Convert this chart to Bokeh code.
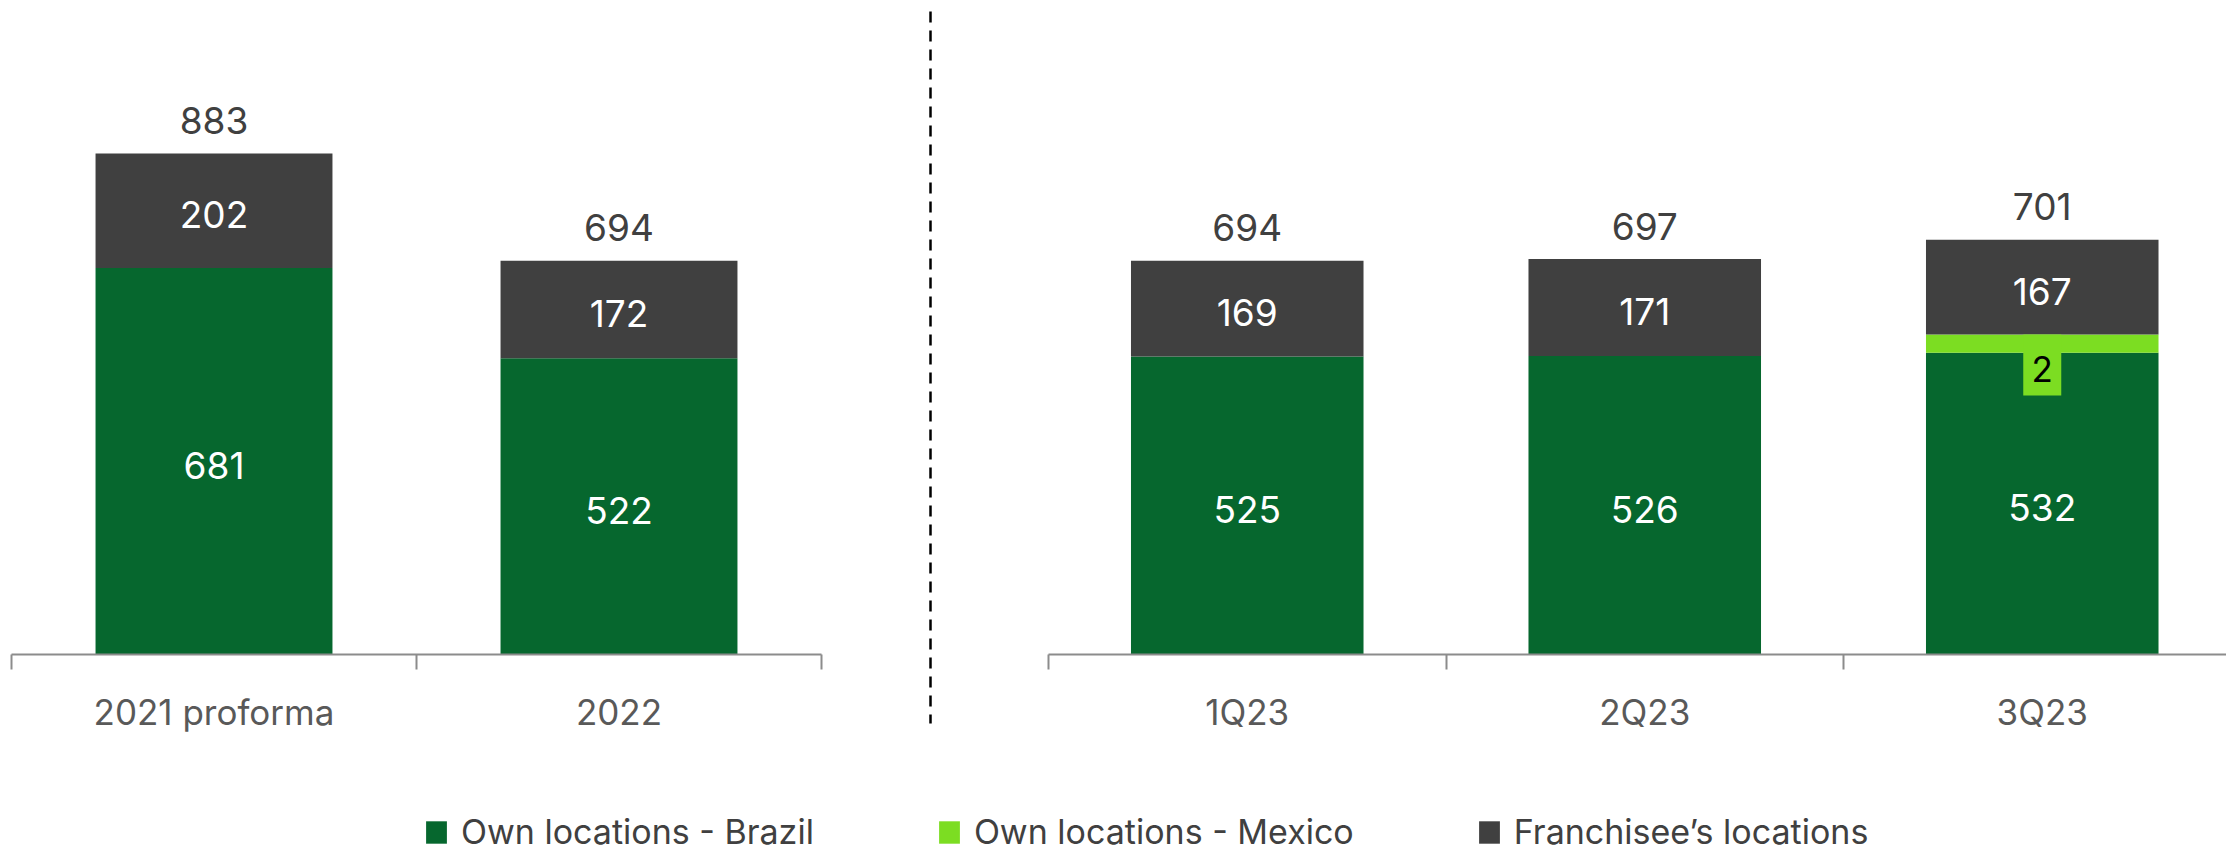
from bokeh.plotting import figure
from bokeh.models import (Range1d, LinearAxis, FixedTicker, ColumnDataSource,
                          Legend, LegendItem)
from bokeh.core.properties import value
from bokeh.embed import file_html
from bokeh.resources import INLINE

# ---------------- data ----------------
left_categories = ["2021 proforma", "2022"]
left_brazil = [681, 522]
left_mexico = [0, 0]
left_franchise = [202, 172]

right_categories = ["1Q23", "2Q23", "3Q23"]
right_brazil = [525, 526, 532]
right_mexico = [0, 0, 2]
right_franchise = [169, 171, 167]

series_names = ["Own locations - Brazil", "Own locations - Mexico", "Franchisee\u2019s locations"]

# ---------------- style ----------------
GREEN = "#06672E"
LIME = "#7CDD22"
DARK = "#404040"
AXIS_C = "#8C8C8C"
LABEL_C = "#595959"
FONT = "Inter"

W, H = 2226, 853
PX_PER_UNIT = 501 / 883.0          # vertical scale
BASE_FROM_TOP = 654                 # canvas y of the zero line
L_X0, L_CAT = 11, 405.0             # left panel origin / category width (px)
R_X0, R_CAT = 1048, 397.5           # right panel origin / category width (px)
BAR_W = 0.585
MEX_MIN_VIS = 32                    # minimum drawn thickness for the tiny Mexico segment
BOX_W_PX, BOX_H_PX = 38, 61         # lime value box under the Mexico band

p = figure(width=W, height=H, output_backend="svg", toolbar_location=None,
           x_axis_type=None, y_axis_type=None, min_border=0,
           outline_line_color=None, background_fill_color=None,
           border_fill_color="white")
p.xgrid.visible = False
p.ygrid.visible = False

p.x_range = Range1d(-L_X0 / L_CAT, (W - L_X0) / L_CAT)
p.extra_x_ranges = {"right": Range1d(-R_X0 / R_CAT, (W - R_X0) / R_CAT)}
p.y_range = Range1d(-(H - BASE_FROM_TOP) / PX_PER_UNIT, BASE_FROM_TOP / PX_PER_UNIT)


def panel_source(cats, brazil, mexico, franchise):
    xs = [i + 0.5 for i in range(len(cats))]
    mex_vis = [max(m, MEX_MIN_VIS) if m > 0 else 0 for m in mexico]
    b_top = list(brazil)
    m_top = [b + m for b, m in zip(brazil, mex_vis)]
    f_top = [m + f for m, f in zip(m_top, franchise)]
    totals = [b + m + f for b, m, f in zip(brazil, mexico, franchise)]
    return ColumnDataSource(dict(
        x=xs, b_bot=[0] * len(cats), b_top=b_top, m_top=m_top, f_top=f_top,
        b_mid=[t / 2 for t in b_top],
        f_mid=[(m + f) / 2 for m, f in zip(m_top, f_top)],
        b_lbl=[str(v) for v in brazil], f_lbl=[str(v) for v in franchise],
        m_lbl=[str(v) for v in mexico], m_show=[m > 0 for m in mexico],
        tot=[str(v) for v in totals],
    ))


def draw_panel(cats, brazil, mexico, franchise, range_name):
    src = panel_source(cats, brazil, mexico, franchise)
    kw = {} if range_name is None else {"x_range_name": range_name}
    rb = p.vbar(x="x", width=BAR_W, bottom="b_bot", top="b_top", source=src,
                fill_color=GREEN, line_color=None, **kw)
    rm = p.vbar(x="x", width=BAR_W, bottom="b_top", top="m_top", source=src,
                fill_color=LIME, line_color=None, **kw)
    rf = p.vbar(x="x", width=BAR_W, bottom="m_top", top="f_top", source=src,
                fill_color=DARK, line_color=None, **kw)
    # segment labels
    p.text(x="x", y="b_mid", text="b_lbl", source=src, text_color="white",
           text_font=value(FONT), text_font_size="37px", text_align="center",
           text_baseline="middle", y_offset=4, **kw)
    p.text(x="x", y="f_mid", text="f_lbl", source=src, text_color="white",
           text_font=value(FONT), text_font_size="37px", text_align="center",
           text_baseline="middle", y_offset=4, **kw)
    # totals
    p.text(x="x", y="f_top", text="tot", source=src, text_color=DARK,
           text_font=value(FONT), text_font_size="37px", text_align="center",
           text_baseline="alphabetic", y_offset=-33, **kw)
    # axis
    n = len(cats)
    ax = LinearAxis(fixed_location=0, bounds=(0, n),
                    ticker=FixedTicker(ticks=[i + 0.5 for i in range(n)],
                                       minor_ticks=list(range(n + 1))),
                    major_label_overrides={i + 0.5: c for i, c in enumerate(cats)},
                    axis_line_color=AXIS_C, axis_line_width=2,
                    major_tick_line_color=None, major_tick_out=0, major_tick_in=0,
                    minor_tick_line_color=AXIS_C, minor_tick_line_width=2,
                    minor_tick_out=15, minor_tick_in=0,
                    major_label_standoff=21,
                    major_label_text_font=FONT, major_label_text_font_size="35px",
                    major_label_text_color=LABEL_C, **kw)
    p.add_layout(ax, "below")
    return src, rb, rm, rf


draw_panel(left_categories, left_brazil, left_mexico, left_franchise, None)
rsrc, rb, rm, rf = draw_panel(right_categories, right_brazil, right_mexico,
                              right_franchise, "right")

# small Mexico value label in a lime box hanging under the band
box_h_units = BOX_H_PX / PX_PER_UNIT
mex_src = ColumnDataSource(dict(
    x=[x for x, s in zip(rsrc.data["x"], rsrc.data["m_show"]) if s],
    y=[y - box_h_units / 2 for y, s in zip(rsrc.data["m_top"], rsrc.data["m_show"]) if s],
    t=[t for t, s in zip(rsrc.data["m_lbl"], rsrc.data["m_show"]) if s],
))
p.rect(x="x", y="y", width=BOX_W_PX, width_units="screen", height=box_h_units,
       source=mex_src, x_range_name="right", fill_color=LIME, line_color=None)
p.text(x="x", y="y", text="t", source=mex_src, x_range_name="right",
       text_color="black", text_font=value(FONT), text_font_size="35px",
       text_align="center", text_baseline="middle", y_offset=4)

# dashed divider between the yearly and quarterly panels
DIV_X = (930 - L_X0) / L_CAT
p.segment(x0=[DIV_X], x1=[DIV_X],
          y0=[(BASE_FROM_TOP - 11) / PX_PER_UNIT],
          y1=[-(723 - BASE_FROM_TOP) / PX_PER_UNIT],
          line_color="black", line_width=2.5, line_dash="11 8")

legend = Legend(items=[LegendItem(label=series_names[0], renderers=[rb]),
                       LegendItem(label=series_names[1], renderers=[rm]),
                       LegendItem(label=series_names[2], renderers=[rf])],
                orientation="horizontal", location=(423, 1),
                glyph_width=26, glyph_height=28, label_standoff=12, spacing=122,
                padding=0, margin=0, border_line_color=None,
                background_fill_alpha=0,
                label_text_font=FONT, label_text_font_size="34px",
                label_text_color=DARK, label_height=28)
p.add_layout(legend)

open("out.html", "w").write(file_html(p, INLINE))
